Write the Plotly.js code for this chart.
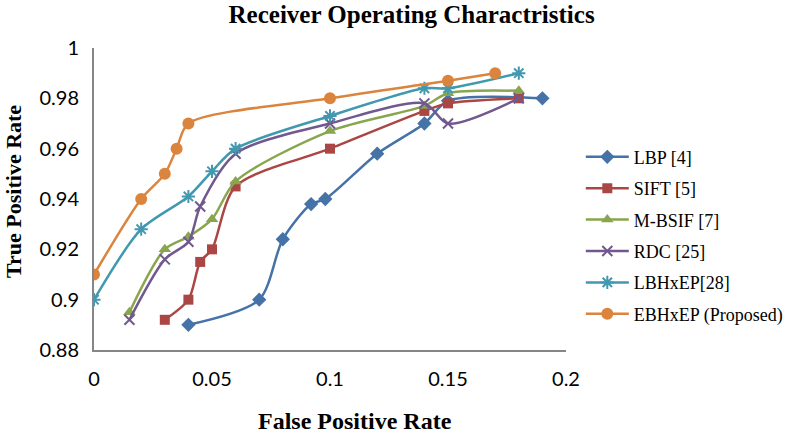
<!DOCTYPE html>
<html>
<head>
<meta charset="utf-8">
<script src="https://cdn.plot.ly/plotly-3.0.1.min.js"></script>
<style>
  html, body { margin: 0; padding: 0; background: #fff; }
  #roc { width: 787px; height: 435px; }
</style>
</head>
<body>
<div id="roc"></div>
<script>
// series
var lbpX = [0.04, 0.07, 0.08, 0.092, 0.098, 0.12, 0.14, 0.15, 0.19];
var lbpY = [0.89, 0.90, 0.924, 0.938, 0.94, 0.958, 0.97, 0.979, 0.98];

var siftX = [0.03, 0.04, 0.045, 0.05, 0.06, 0.1, 0.14, 0.15, 0.18];
var siftY = [0.892, 0.90, 0.915, 0.92, 0.945, 0.96, 0.975, 0.978, 0.98];

var bsifX = [0.015, 0.03, 0.04, 0.05, 0.06, 0.1, 0.14, 0.15, 0.18];
var bsifY = [0.895, 0.92, 0.925, 0.932, 0.947, 0.967, 0.977, 0.982, 0.983];

var rdcX = [0.015, 0.03, 0.04, 0.045, 0.06, 0.1, 0.14, 0.15, 0.18];
var rdcY = [0.892, 0.916, 0.923, 0.937, 0.958, 0.97, 0.978, 0.97, 0.98];

var lbhX = [0, 0.02, 0.04, 0.05, 0.06, 0.1, 0.14, 0.15, 0.18];
var lbhY = [0.90, 0.928, 0.941, 0.951, 0.96, 0.973, 0.984, 0.984, 0.99];

var ebhX = [0, 0.02, 0.03, 0.035, 0.04, 0.1, 0.15, 0.17];
var ebhY = [0.91, 0.94, 0.95, 0.96, 0.97, 0.98, 0.987, 0.99];

var names = ['LBP [4]', 'SIFT [5]', 'M-BSIF [7]', 'RDC [25]', 'LBHxEP[28]', 'EBHxEP (Proposed)'];
var colors = ['#4572A7', '#AA4643', '#89A54E', '#71588F', '#4198AF', '#DB843D'];
var yTicks = [0.88, 0.9, 0.92, 0.94, 0.96, 0.98, 1];
var xTicks = [0, 0.05, 0.1, 0.15, 0.2];

function makeTrace(i, xs, ys, symbol, size, open) {
    var marker = { color: colors[i], size: size, symbol: symbol };
    if (open) marker.line = { color: colors[i], width: 2 };
    return {
        x: xs,
        y: ys,
        name: names[i],
        legendgroup: 'g' + i,
        type: 'scatter',
        mode: 'lines+markers',
        line: { color: colors[i], width: 2.5, shape: 'spline', smoothing: 0.8 },
        marker: marker
    };
}

var data = [
    makeTrace(0, lbpX, lbpY, 'diamond', 11, false),
    makeTrace(1, siftX, siftY, 'square', 10, false),
    makeTrace(2, bsifX, bsifY, 'triangle-up', 11, false),
    makeTrace(3, rdcX, rdcY, 'x-thin-open', 10, true),
    makeTrace(4, lbhX, lbhY, 'asterisk-open', 11, true),
    makeTrace(5, ebhX, ebhY, 'circle', 12, false)
];

var serif = 'Liberation Serif, Times New Roman, serif';
var tickFont = { family: 'Lato, Open Sans, sans-serif', size: 20, color: '#000' };
var layout = {
    width: 787,
    height: 435,
    paper_bgcolor: '#fff',
    plot_bgcolor: '#fff',
    margin: { l: 94, r: 221, t: 48, b: 85, autoexpand: false },
    title: {
        text: '<b>Receiver Operating Charactristics</b>',
        font: { family: serif, size: 25, color: '#000' },
        xref: 'container', x: 0.523, xanchor: 'center',
        yref: 'container', y: 0.968, yanchor: 'middle'
    },
    xaxis: {
        range: [0, 0.2],
        tickvals: xTicks,
        ticks: '',
        ticklabelstandoff: 10,
        showgrid: false,
        zeroline: false,
        showline: true,
        linecolor: '#868686',
        linewidth: 2,
        tickfont: tickFont
    },
    yaxis: {
        range: [0.88, 1],
        tickvals: yTicks,
        ticks: '',
        ticklabelstandoff: 9,
        showgrid: false,
        zeroline: false,
        showline: true,
        linecolor: '#868686',
        linewidth: 2,
        tickfont: tickFont
    },
    annotations: [
        {
            text: '<b>False Positive Rate</b>',
            font: { family: serif, size: 24, color: '#000' },
            xref: 'paper', yref: 'paper',
            x: 0.553, y: -0.235, xanchor: 'center', yanchor: 'middle',
            showarrow: false
        },
        {
            text: '<b>True Positive Rate</b>',
            font: { family: serif, size: 22, color: '#000' },
            textangle: -90,
            xref: 'paper', yref: 'paper',
            x: -0.172, y: 0.526, xanchor: 'center', yanchor: 'middle',
            showarrow: false
        }
    ],
    legend: {
        xref: 'container',
        x: 0.738, xanchor: 'left',
        y: 0.7, yanchor: 'top',
        font: { family: serif, size: 18, color: '#000' },
        itemwidth: 43,
        tracegroupgap: 5,
        bgcolor: 'rgba(0,0,0,0)'
    },
    showlegend: true
};

Plotly.newPlot('roc', data, layout, { displayModeBar: false, staticPlot: true });
</script>
</body>
</html>
